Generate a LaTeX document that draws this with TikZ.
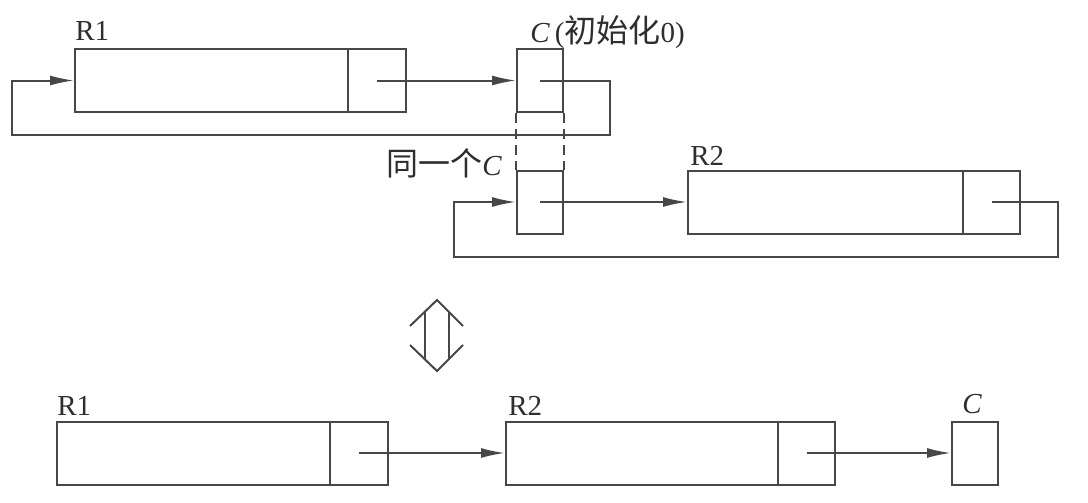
\documentclass[tikz,border=0pt]{standalone}
\usepackage{fontspec}
\setmainfont{Liberation Serif}
\newfontfamily\cjk{Noto Sans CJK SC}
\newcommand\cjkt[1]{{\cjk\fontsize{16}{18}\selectfont #1}}
\usetikzlibrary{arrows.meta}
\begin{document}
\begin{tikzpicture}[x=0.5pt,y=-0.5pt,
  ln/.style={draw=black!72, line width=1pt},
  cell/.style={ln, rectangle, inner sep=0pt, minimum height=31.5pt},
  arr/.style={ln, -{Latex[length=12pt,width=5pt]}},
  lbl/.style={inner sep=0pt, anchor=base west, text=black!82, font=\fontsize{14.5}{16}\selectfont}
]
\useasboundingbox[fill=white] (0,0) rectangle (1088,503);
% top row
\node[cell, minimum width=136.5pt] (r1) at (211.5,80.5) {};
\node[cell, minimum width=29pt] (r1p) at (377,80.5) {};
\node[cell, minimum width=23pt] (ct) at (540,80.5) {};
\node[cell, minimum width=23pt] (cl) at (540,202) {};
\node[cell, minimum width=137.5pt] (r2) at (825.5,202) {};
\node[cell, minimum width=28.5pt] (r2p) at (991.5,202) {};
% bottom row
\node[cell, minimum width=136.5pt] (b1) at (193.5,453) {};
\node[cell, minimum width=29pt] (b1p) at (359,453) {};
\node[cell, minimum width=136pt] (b2) at (642,453) {};
\node[cell, minimum width=28.5pt] (b2p) at (806.5,453) {};
\node[cell, minimum width=23pt] (bc) at (975,453) {};
% loop 1
\coordinate (l1a) at (610,80.5);
\coordinate (l1b) at (610,135);
\coordinate (l1c) at (12,135);
\coordinate (l1d) at (12,80.5);
\draw[arr] (r1p.center) -- (ct.west);
\draw[arr] (ct.center) -- (l1a) -- (l1b) -- (l1c) -- (l1d) -- (r1.west);
% same C dashed
\draw[ln, dash pattern=on 5pt off 3pt] (ct.south west) -- (cl.north west);
\draw[ln, dash pattern=on 5pt off 3pt] (ct.south east) -- (cl.north east);
% loop 2
\coordinate (l2a) at (1058,202);
\coordinate (l2b) at (1058,257);
\coordinate (l2c) at (454,257);
\coordinate (l2d) at (454,202);
\draw[arr] (cl.center) -- (r2.west);
\draw[arr] (r2p.center) -- (l2a) -- (l2b) -- (l2c) -- (l2d) -- (cl.west);
% bottom arrows
\draw[arr] (b1p.center) -- (b2.west);
\draw[arr] (b2p.center) -- (bc.west);
% double arrow symbol
\draw[ln, line join=miter] (410,326) -- (437,300) -- (463,326);
\draw[ln, line join=miter] (410,345) -- (437,371) -- (463,345);
\draw[ln] (425,311.5) -- (425,359.5);
\draw[ln] (449,311.5) -- (449,359.5);
% labels
\node[lbl] (tR1) at (75,40) {R1};
\node[lbl] (tC) at (530,42) {\textit{C}\,(\cjkt{初始化}0)};
\node[lbl] (tS) at (386,175) {\cjkt{同一个}\textit{C}};
\node[lbl] (tR2) at (690,165) {R2};
\node[lbl] (bR1) at (57,415) {R1};
\node[lbl] (bR2) at (508,415) {R2};
\node[lbl] (bC) at (962,413) {\textit{C}};
\end{tikzpicture}
\end{document}
